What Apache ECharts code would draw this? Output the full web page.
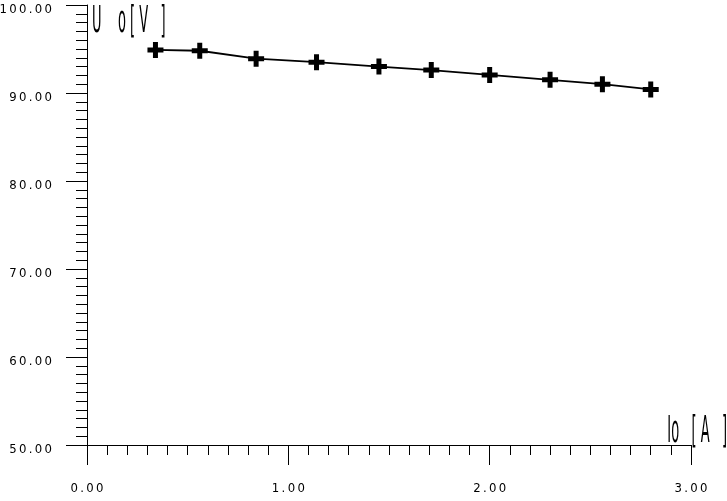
<!DOCTYPE html>
<html>
<head>
<meta charset="utf-8">
<script src="https://cdn.jsdelivr.net/npm/echarts@6/dist/echarts.min.js"></script>
<style>html,body{margin:0;padding:0;background:#fff}#c{width:727px;height:501px}</style>
</head>
<body>
<div id="c"></div>
<script>
// Data
const ioValues = [0.34, 0.56, 0.84, 1.14, 1.45, 1.71, 2.0, 2.3, 2.56, 2.8];
const uoValues = [94.9, 94.8, 93.9, 93.5, 93.0, 92.6, 92.05, 91.5, 91.0, 90.4];
const yAxisName = 'U    o [ V   ]';
const xAxisName = 'Io   [ A   ]';

const FONT = '"Liberation Sans Narrow", "DejaVu Sans Condensed", sans-serif';
const THIN = '\u2009';
const spaced = v => v.toFixed(2).split('').join(THIN);

const chart = echarts.init(document.getElementById('c'), null, {renderer: 'canvas'});
chart.setOption({
  animation: false,
  backgroundColor: '#fff',
  grid: {left: 87, right: 36, top: 5, bottom: 56, containLabel: false, outerBoundsMode: 'none'},
  xAxis: {
    type: 'value', min: 0, max: 3, interval: 1,
    axisLine: {show: true, onZero: false, lineStyle: {color: '#000', width: 1}},
    axisTick: {show: true, length: 20, lineStyle: {color: '#000', width: 1}},
    minorTick: {show: true, splitNumber: 10, length: 10, lineStyle: {color: '#000', width: 1}},
    splitLine: {show: false},
    axisLabel: {formatter: spaced, fontFamily: FONT, fontSize: 13, color: '#000', margin: 37,
                verticalAlign: 'top', lineHeight: 13}
  },
  yAxis: {
    type: 'value', min: 50, max: 100, interval: 10,
    axisLine: {show: true, onZero: false, lineStyle: {color: '#000', width: 1}},
    axisTick: {show: true, length: 21, lineStyle: {color: '#000', width: 1}},
    minorTick: {show: true, splitNumber: 10, length: 11, lineStyle: {color: '#000', width: 1}},
    splitLine: {show: false},
    axisLabel: {formatter: spaced, fontFamily: FONT, fontSize: 13, color: '#000', margin: 35,
                verticalAlign: 'top', lineHeight: 9}
  },
  graphic: [
    {type: 'text', x: 92, y: 3, scaleX: 0.38, z: 10,
     style: {text: yAxisName, font: '38px ' + FONT, fill: '#000', textAlign: 'left', textVerticalAlign: 'top'}},
    {type: 'text', x: 727, y: 413, scaleX: 0.38, z: 10,
     style: {text: xAxisName, font: '38px ' + FONT, fill: '#000', textAlign: 'right', textVerticalAlign: 'top'}}
  ],
  series: [{
    type: 'line',
    data: ioValues.map((x, i) => [x, uoValues[i]]),
    symbol: 'path://M5.5,0H10.5V5.5H16V10.5H10.5V16H5.5V10.5H0V5.5H5.5Z',
    symbolSize: 16,
    itemStyle: {color: '#000'},
    lineStyle: {color: '#000', width: 1.8},
    z: 5
  }]
});
</script>
</body>
</html>
